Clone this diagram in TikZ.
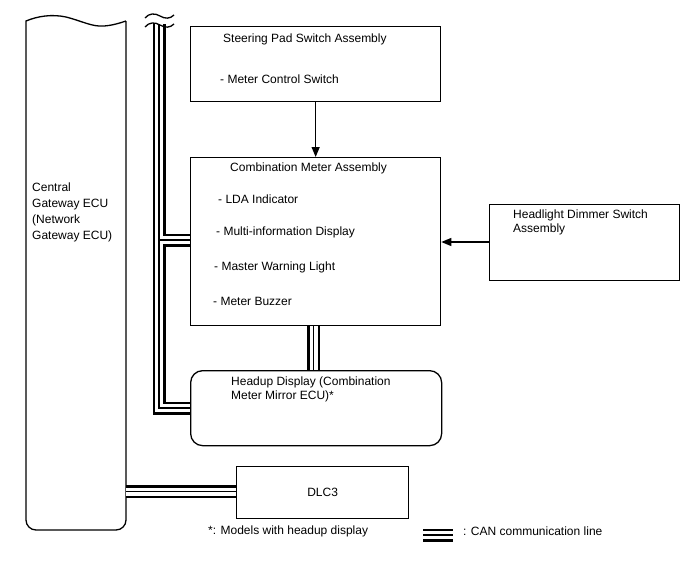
\documentclass[tikz,border=0pt]{standalone}
\usepackage{fontspec}
\setmainfont{Liberation Sans}
\usetikzlibrary{arrows.meta}
\newcommand\canroutes[1]{%
  \draw[#1] (bustop) -- (159,408) -- (hud.west |- 0,408);
  \draw[#1] (159,240) -- (meter.west |- 0,240);
  \draw[#1] (meter.south -| 313.7,0) -- (hud.north -| 313.7,0);
  \draw[#1] (gateway.east |- 0,491.5) -- (dlc.west |- 0,491.5);
  \draw[#1] (legL) -- (legR);
}
\begin{document}
\begin{tikzpicture}[x=1pt,y=-1pt,
  font=\fontsize{12}{14}\selectfont,
  box/.style={draw, line width=1.3pt, inner sep=0pt, anchor=north west},
  lbl/.style={anchor=base west, inner sep=0pt, align=left},
  arr/.style={line width=1.3pt, -{Triangle[length=10pt,width=8pt]}},
  canA/.style={line width=13pt, line join=miter, black},
  canB/.style={line width=8pt, line join=miter, white},
  canC/.style={line width=1.2pt, line join=miter, black},
  outline/.style={line width=1.3pt}
]
\useasboundingbox[fill=white] (0,0) rectangle (688,560);

% gateway ECU
\node[inner sep=0pt, anchor=north west, minimum width=100pt, minimum height=509pt] (gateway) at (26,21) {};
\draw[outline] (126,21) -- (126,520) .. controls (126,525.5) and (121.5,530) .. (116,530)
  -- (36,530) .. controls (30.5,530) and (26,525.5) .. (26,520) -- (26,21)
  .. controls (38,16) and (52,14) .. (66,17) .. controls (82,21) and (92,27) .. (104,26)
  .. controls (112,25.5) and (120,23) .. (126,21);
\node[lbl, font=\fontsize{12}{16}\selectfont] (gwT) at (32,239) {Central\\Gateway ECU\\(Network\\Gateway ECU)};

% boxes
\node[box, minimum width=250pt, minimum height=75pt] (steer) at (190,26) {};
\node[box, minimum width=250pt, minimum height=168pt] (meter) at (190,157) {};
\node[box, minimum width=190pt, minimum height=76pt] (dim) at (489,204) {};
\node[box, rounded corners=12pt, minimum width=251pt, minimum height=75pt] (hud) at (190,370) {};
\node[box, minimum width=172pt, minimum height=52pt] (dlc) at (236,466) {};

% texts
\node[lbl] (steerT) at (223,42) {Steering Pad Switch Assembly};
\node[lbl] (steerS) at (220,83) {- Meter Control Switch};
\node[lbl] (meterT) at (230,171) {Combination Meter Assembly};
\node[lbl] (m1) at (218,203) {- LDA Indicator};
\node[lbl] (m2) at (216,235) {- Multi-information Display};
\node[lbl] (m3) at (214,270) {- Master Warning Light};
\node[lbl] (m4) at (213,305) {- Meter Buzzer};
\node[lbl] (dimT) at (513,232) {Headlight Dimmer Switch\\Assembly};
\node[lbl] (hudT) at (231,399) {Headup Display (Combination\\Meter Mirror ECU)*};
\node[inner sep=0pt] (dlcT) at (dlc.center) {DLC3};
\node[lbl] (note) at (208,534) {*: Models with headup display};
\node[lbl] (legT) at (463,535) {: CAN communication line};

% arrows
\draw[arr] (steer.south) -- (meter.north);
\draw[arr] (dim.west |- 0,242) -- (meter.east |- 0,242);

% CAN lines
\coordinate (bustop) at (159,24);
\coordinate (legL) at (423,535);
\coordinate (legR) at (453,535);
\canroutes{canA}
\canroutes{canB}
\canroutes{canC}

% break marks
\draw[outline] (145,18) .. controls (149,13) and (155,13) .. (160,16) .. controls (165,19) and (170,19) .. (174,15);
\draw[outline] (145,27) .. controls (149,22) and (155,22) .. (160,25) .. controls (165,28) and (170,28) .. (174,24);
\end{tikzpicture}
\end{document}
